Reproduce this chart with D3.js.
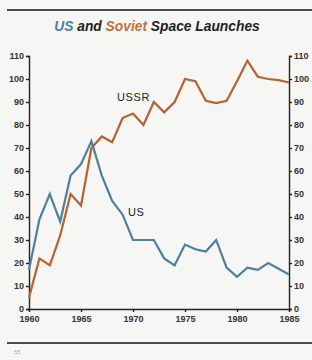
<!DOCTYPE html>
<html>
<head>
<script src="https://d3js.org/d3.v7.min.js"></script>
<style>
body { margin: 0; background: #f6f6f4; }
svg { display: block; font-family: "Liberation Sans", Arial, sans-serif; }
.axis text { font-size: 9px; font-weight: bold; fill: #333; }
.axis path, .axis line { stroke: #222; stroke-width: 1.4; }
</style>
</head>
<body>
<div id="chart"></div>
<script>
var years = d3.range(1960, 1986);
var usLaunches = [17, 39, 50, 38, 58, 63, 73, 58, 47, 41, 30, 30, 30, 22, 19, 28, 26, 25, 30, 18, 14, 18, 17, 20, 17.5, 15];
var ussrLaunches = [5, 22, 19, 32, 50, 45, 70, 75, 72.5, 83, 85, 80, 90, 85.5, 90, 100, 99, 90.5, 89.5, 90.5, 99, 108, 101, 100, 99.5, 98.5];
var yTicks = d3.range(0, 111, 10);
var xTicks = [1960, 1965, 1970, 1975, 1980, 1985];

var width = 312, height = 360;
var margin = { left: 29, right: 23, top: 56, bottom: 51 };

var svg = d3.select("#chart").append("svg")
  .attr("width", width).attr("height", height);

var x = d3.scaleLinear().domain([1960, 1985]).range([margin.left, width - margin.right]);
var y = d3.scaleLinear().domain([0, 110]).range([height - margin.bottom, margin.top]);

// page rules
svg.append("line").attr("x1", 7).attr("x2", 312).attr("y1", 10).attr("y2", 10)
  .style("stroke", "#111").style("stroke-width", 1.3);
svg.append("line").attr("x1", 7).attr("x2", 312).attr("y1", 343).attr("y2", 343)
  .style("stroke", "#111").style("stroke-width", 1.3);
svg.append("text").attr("x", 14).attr("y", 354)
  .style("font-size", "6px").style("fill", "#aaa").text("55");

// title
var title = svg.append("text").attr("x", width / 2 + 1).attr("y", 31)
  .attr("text-anchor", "middle")
  .style("font-size", "13.8px").style("font-weight", "bold").style("font-style", "italic")
  .style("fill", "#222");
title.append("tspan").style("fill", "#4f80a3").text("US");
title.append("tspan").text(" and ");
title.append("tspan").style("fill", "#c0703f").text("Soviet");
title.append("tspan").text(" Space Launches");

// axes
svg.append("g").attr("class", "axis")
  .attr("transform", "translate(" + margin.left + ",0)")
  .call(d3.axisLeft(y).tickValues(yTicks).tickSize(3).tickSizeOuter(3).tickPadding(2));
svg.append("g").attr("class", "axis")
  .attr("transform", "translate(" + (width - margin.right) + ",0)")
  .call(d3.axisRight(y).tickValues(yTicks).tickSize(3).tickSizeOuter(3).tickPadding(2));
svg.append("g").attr("class", "axis")
  .attr("transform", "translate(0," + y(0) + ")")
  .call(d3.axisBottom(x).tickValues(xTicks).tickFormat(d3.format("d")).tickSize(3).tickSizeOuter(0).tickPadding(4));

var line = d3.line()
  .x(function (d, i) { return x(years[i]); })
  .y(function (d) { return y(d); });

svg.append("path").datum(ussrLaunches).attr("d", line)
  .style("fill", "none").style("stroke", "#b9612f").style("stroke-width", 2.2)
  .style("stroke-linejoin", "miter");
svg.append("path").datum(usLaunches).attr("d", line)
  .style("fill", "none").style("stroke", "#4f7f9f").style("stroke-width", 2.2)
  .style("stroke-linejoin", "miter");

// series labels
svg.append("text").attr("x", 117).attr("y", 101)
  .style("font-size", "11px").style("fill", "#222").style("letter-spacing", "0.6px").text("USSR");
svg.append("text").attr("x", 128).attr("y", 216)
  .style("font-size", "11px").style("fill", "#222").style("letter-spacing", "0.6px").text("US");
</script>
</body>
</html>
